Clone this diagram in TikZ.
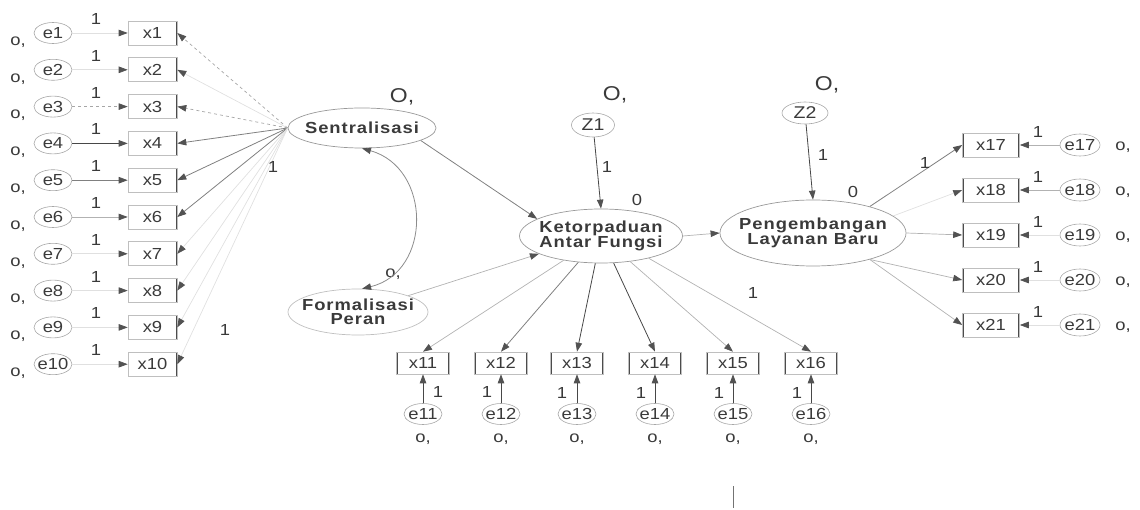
\documentclass[tikz,border=0pt]{standalone}
\usepackage{fontspec}
\setmainfont{Liberation Sans}[FakeStretch=1.15]
\usetikzlibrary{shapes.geometric,arrows.meta}
\definecolor{ink}{HTML}{3A3A3A}
\tikzset{
  head/.style={-{Triangle[length=9pt,width=6.5pt,color=black!68]}},
  pdark/.style={head, draw=black!72, line width=0.8pt},
  pmid/.style={head, draw=black!50, line width=0.8pt},
  pfaint/.style={head, draw=black!30, line width=0.7pt},
  pdash/.style={head, draw=black!35, line width=0.7pt, dashed},
  pghost/.style={head, draw=black!12, line width=0.7pt},
  lat/.style={ellipse, draw=black!40, line width=0.7pt, align=center,
    inner xsep=-8pt, inner ysep=0pt, text=ink,
    font=\fontsize{16}{16}\selectfont\bfseries\addfontfeature{LetterSpace=6}},
  err/.style={ellipse, draw=black!35, line width=0.6pt, minimum width=38pt,
    minimum height=21pt, inner xsep=-2pt, inner ysep=0pt, text=ink, font=\fontsize{16}{16}\selectfont},
  obs/.style={rectangle, draw=black!25, line width=0.6pt, minimum width=49pt,
    minimum height=24pt, inner sep=0pt, text=ink, font=\fontsize{16}{16}\selectfont,
    path picture={\draw[black!70, line width=2.4pt]
      (path picture bounding box.north west) -- (path picture bounding box.south west)
      (path picture bounding box.north east) -- (path picture bounding box.south east);}},
  lbl/.style={inner sep=0pt, text=ink, font=\fontsize{16}{16}\selectfont},
  big/.style={inner sep=0pt, text=ink, font=\fontsize{20}{20}\selectfont},
}
\begin{document}
\begin{tikzpicture}[x=1pt,y=-1pt]
\useasboundingbox (0,0) rectangle (1140,510);

% ---------------- latent variables
\node[lat, minimum width=148pt, minimum height=40pt] (Sent) at (362,128) {Sentralisasi};
\node[lat, minimum width=140pt, minimum height=46pt, draw=black!25] (Form) at (358,312) {Formalisasi\\[-2pt]Peran};
\node[lat, minimum width=163pt, minimum height=54pt] (Ket) at (601,236) {Ketorpaduan\\[-1pt]Antar Fungsi};
\node[lat, minimum width=168pt, minimum height=66pt] (Peng) at (813,233) {Pengembangan\\[-1pt]Layanan Baru};
\node[err, minimum width=43pt, minimum height=24pt, font=\fontsize{17}{17}\selectfont] (Z1) at (593,125) {Z1};
\node[err, minimum width=46pt, minimum height=22pt, font=\fontsize{17}{17}\selectfont] (Z2) at (805,113) {Z2};

% variance labels of latents
\node[big] (vS) at (402,97) {O,};
\node[big] (vZ1) at (615,95) {O,};
\node[big] (vZ2) at (827,85) {O,};
\node[lbl] (vK) at (637,200) {0};
\node[lbl] (vP) at (853,192) {0};
\node[lbl] (vF) at (393,274) {o,};

% ---------------- left indicators
\foreach \i in {1,...,10} {
  \pgfmathsetmacro\yy{33+(\i-1)*36.8}
  \node[err] (e\i) at (53,\yy) {e\i};
  \node[obs] (x\i) at (152.5,\yy) {x\i};
  \node[lbl] (o\i) at (18,\yy+9) {o,};
  \node[lbl] (one\i) at (96,\yy-14) {1};
}
\foreach \i/\s in {1/pghost,2/pghost,3/pdash,4/pdark,5/pmid,6/pfaint,7/pghost,8/pghost,9/pghost,10/pghost}
  \draw[\s] (e\i) -- (x\i);
\foreach \i/\s in {1/pdash,2/pghost,3/pdash,4/pmid,5/pmid,6/pmid,7/pghost,8/pghost,9/pghost,10/pghost}
  \draw[\s] (Sent.west) -- (x\i.east);
\node[lbl] (lS1) at (273,167) {1};
\node[lbl] (lS2) at (225,330) {1};

% ---------------- structural paths
\draw[pmid] (Sent.-12) -- (Ket.165);
\draw[pfaint] (Form.18) -- (Ket.196);
\draw[{Triangle[length=9pt,width=6.5pt,color=black!68]}-{Triangle[length=9pt,width=6.5pt,color=black!68]}, draw=black!45, line width=0.8pt]
  (Sent.south) .. controls (432,168) and (432,272) .. (Form.80);
\draw[pdark] (Z1) -- (Ket.north);
\node[lbl] (lZ1) at (607,167) {1};
\draw[pdark] (Z2) -- (Peng.north);
\node[lbl] (lZ2) at (823,155) {1};
\draw[pfaint] (Ket.east) -- (Peng.west);

% ---------------- bottom indicators
\foreach \i/\xx in {11/423,12/501,13/577,14/655,15/733,16/811} {
  \node[obs, minimum width=53pt, minimum height=22pt] (x\i) at (\xx,363) {x\i};
  \node[err] (e\i) at (\xx,414) {e\i};
  \node[lbl] (o\i) at (\xx,439) {o,};
  \draw[pdark] (e\i) -- (x\i);
}
\node[lbl] (one11) at (438,392) {1};
\node[lbl] (one12) at (487,392) {1};
\node[lbl] (one13) at (562,393) {1};
\node[lbl] (one14) at (641,393) {1};
\node[lbl] (one15) at (719,393) {1};
\node[lbl] (one16) at (797,393) {1};
\draw[pfaint] (Ket) -- (x11.north);
\draw[pmid] (Ket) -- (x12.north);
\draw[pdark] (Ket) -- (x13.north);
\draw[pdark] (Ket) -- (x14.north);
\draw[pfaint] (Ket) -- (x15.north);
\draw[pfaint] (Ket.-25) -- (x16.north);
\node[lbl] (lK) at (753,293) {1};

% ---------------- right indicators
\foreach \i/\yy in {17/145,18/190,19/235,20/280,21/325} {
  \node[obs, minimum width=57pt, minimum height=24pt] (x\i) at (991,\yy) {x\i};
  \node[err, minimum width=40pt, minimum height=22pt] (e\i) at (1080,\yy) {e\i};
  \node[lbl] (o\i) at (1123,\yy+2) {o,};
  \node[lbl] (one\i) at (1038,\yy-13) {1};
}
\foreach \i/\s in {17/pfaint,18/pfaint,19/pghost,20/pghost,21/pghost}
  \draw[\s] (e\i) -- (x\i);
\draw[pmid] (Peng.25) -- (x17.west);
\draw[pghost] (Peng.12) -- (x18.west);
\draw[pfaint] (Peng.east) -- (x19.west);
\draw[pfaint] (Peng.-25) -- (x20.west);
\draw[pfaint] (Peng.-25) -- (x21.west);
\node[lbl] (lP) at (925,163) {1};

% stray scan mark
\coordinate (m1) at (733,486);
\coordinate (m2) at (733,508);
\draw[black!55, line width=0.8pt] (m1) -- (m2);
\end{tikzpicture}
\end{document}
